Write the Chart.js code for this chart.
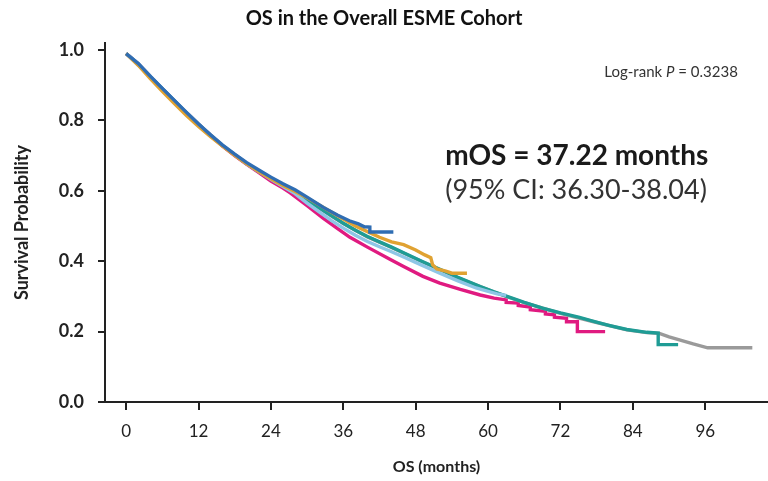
<!DOCTYPE html>
<html>
<head>
<meta charset="utf-8">
<script src="https://cdn.jsdelivr.net/npm/chart.js@4.4.1/dist/chart.umd.min.js"></script>
<style>
  html, body { margin: 0; padding: 0; background: #fff; }
  #wrap { width: 768px; height: 481px; }
</style>
</head>
<body>
<div id="wrap"><canvas id="osChart" width="768" height="481"></canvas></div>
<script>
// Kaplan-Meier points per cohort: [months, survival probability]
const blueCurve = [[0, 0.99], [2, 0.962], [4, 0.926], [6, 0.891], [8, 0.857], [10, 0.823], [12, 0.79],
  [14, 0.759], [16, 0.73], [18, 0.704], [20, 0.68], [22, 0.659], [24, 0.639], [26, 0.62], [28, 0.603],
  [30, 0.582], [32.7, 0.553], [35, 0.531], [37, 0.515], [38.5, 0.506], [39.5, 0.498], [40.4, 0.497],
  [40.4, 0.483], [44.3, 0.483]];

const orangeCurve = [[0, 0.99], [2, 0.957], [4, 0.919], [6, 0.883], [8, 0.848], [10, 0.814], [12, 0.783],
  [14, 0.754], [16, 0.727], [18, 0.701], [20, 0.677], [22, 0.655], [24, 0.634], [26, 0.615], [28, 0.598],
  [30, 0.58], [32, 0.56], [34, 0.54], [36, 0.52], [38, 0.5], [40, 0.484], [42, 0.468], [44, 0.455],
  [46, 0.447], [48, 0.432], [49.5, 0.418], [50.5, 0.41], [50.8, 0.39], [51.5, 0.378], [53, 0.372],
  [54, 0.366], [56.5, 0.366]];

const lightBlueCurve = [[0, 0.99], [2, 0.961], [4, 0.925], [6, 0.89], [8, 0.856], [10, 0.822], [12, 0.789],
  [14, 0.757], [16, 0.728], [18, 0.702], [20, 0.677], [22, 0.655], [24, 0.633], [26, 0.612], [28, 0.592],
  [30, 0.565], [32, 0.54], [34, 0.516], [36, 0.494], [38, 0.474], [40, 0.456], [42, 0.441], [44, 0.427],
  [46, 0.412], [49, 0.389], [52, 0.366], [55, 0.344], [58, 0.324], [60, 0.314], [61.5, 0.307], [63, 0.303]];

const tealCurve = [[0, 0.99], [2, 0.961], [4, 0.925], [6, 0.89], [8, 0.856], [10, 0.822], [12, 0.789],
  [14, 0.757], [16, 0.728], [18, 0.702], [20, 0.677], [22, 0.655], [24, 0.634], [26, 0.614], [28, 0.597],
  [30, 0.574], [32, 0.552], [34, 0.53], [36, 0.508], [38, 0.488], [40, 0.47], [42, 0.455], [44, 0.44],
  [46, 0.424], [49, 0.4], [52, 0.377], [55, 0.354], [58.7, 0.328], [61, 0.313], [63.5, 0.298],
  [66, 0.283], [69, 0.267], [72, 0.253], [75, 0.241], [77.5, 0.229], [80, 0.218], [83, 0.206],
  [86.3, 0.198], [88.2, 0.196], [88.2, 0.163], [91.5, 0.163]];

const grayCurve = [[0, 0.99], [4, 0.925], [8, 0.856], [12, 0.789], [16, 0.728], [20, 0.677], [24, 0.634],
  [28, 0.597], [32, 0.551], [36, 0.507], [40, 0.469], [44, 0.439], [49, 0.399], [55, 0.353], [61, 0.312],
  [66, 0.282], [72, 0.252], [77.5, 0.228], [83, 0.205], [86.3, 0.197], [88.4, 0.195], [90, 0.185],
  [92, 0.175], [94, 0.165], [96.4, 0.154], [103.8, 0.154]];

const magentaCurve = [[0, 0.99], [2, 0.961], [4, 0.925], [6, 0.89], [8, 0.856], [10, 0.822], [12, 0.789],
  [14, 0.757], [16, 0.727], [18, 0.7], [20, 0.675], [22, 0.652], [24, 0.628], [26, 0.608], [27.2, 0.594],
  [30, 0.558], [32.7, 0.522], [35, 0.493], [37.1, 0.468], [40, 0.44], [43.8, 0.405], [46, 0.385],
  [49.2, 0.357], [52, 0.338], [55.4, 0.32], [58.7, 0.304], [61, 0.295], [63, 0.29], [63, 0.283],
  [65, 0.281], [65, 0.274], [67, 0.27], [67, 0.262], [69.5, 0.258], [69.5, 0.25], [71, 0.248],
  [71, 0.241], [73, 0.238], [73, 0.228], [74.8, 0.228], [74.8, 0.2], [79.4, 0.2]];

const monthTicks = [0, 12, 24, 36, 48, 60, 72, 84, 96];
const survTicks = [0, 0.2, 0.4, 0.6, 0.8, 1.0];

const FONT = 'Lato, "Open Sans", sans-serif';
const INK = '#222';

function series(label, pts, color) {
  return {
    label: label,
    data: pts.map(p => ({ x: p[0], y: p[1] })),
    borderColor: color,
    borderWidth: 3.4,
    pointRadius: 0,
    fill: false,
    tension: 0
  };
}

// summary text drawn over the plot area
const notesPlugin = {
  id: 'notes',
  afterDatasetsDraw(chart) {
    const { ctx, scales: { x, y } } = chart;
    ctx.save();
    ctx.fillStyle = '#333';
    ctx.textBaseline = 'middle';

    // Log-rank line, right aligned, with italic P
    const px = x.getPixelForValue(101.4);
    const py = y.getPixelForValue(0.9375);
    const partA = 'Log-rank ';
    const partB = 'P';
    const partC = ' = 0.3238';
    ctx.font = '15px ' + FONT;
    const wA = ctx.measureText(partA).width;
    const wC = ctx.measureText(partC).width;
    ctx.font = 'italic 15px ' + FONT;
    const wB = ctx.measureText(partB).width;
    let cx = px - (wA + wB + wC);
    ctx.textAlign = 'left';
    ctx.font = '15px ' + FONT;
    ctx.fillText(partA, cx, py);
    cx += wA;
    ctx.font = 'italic 15px ' + FONT;
    ctx.fillText(partB, cx, py);
    cx += wB;
    ctx.font = '15px ' + FONT;
    ctx.fillText(partC, cx, py);

    // median OS
    const mx = x.getPixelForValue(52.9);
    ctx.fillStyle = '#1a1a1a';
    ctx.font = 'bold 28px ' + FONT;
    ctx.fillText('mOS = 37.22 months', mx, y.getPixelForValue(0.7));
    ctx.fillStyle = '#333';
    ctx.font = '27px ' + FONT;
    ctx.fillText('(95% CI: 36.30-38.04)', mx, y.getPixelForValue(0.602));
    ctx.restore();
  }
};

new Chart(document.getElementById('osChart'), {
  type: 'line',
  data: {
    datasets: [
      series('Cohort 1', blueCurve, '#2f6db3'),
      series('Cohort 2', orangeCurve, '#e0a232'),
      series('Cohort 3', lightBlueCurve, '#8ec6e6'),
      series('Cohort 4', tealCurve, '#1f9c95'),
      series('Cohort 5', grayCurve, '#9a9a9a'),
      series('Cohort 6', magentaCurve, '#e01a80')
    ]
  },
  options: {
    responsive: false,
    animation: false,
    layout: { padding: { left: 0, right: 0, top: 0, bottom: 0 } },
    plugins: {
      legend: { display: false },
      tooltip: { enabled: false },
      title: {
        display: true,
        text: 'OS in the Overall ESME Cohort',
        color: '#111',
        font: { family: FONT, size: 20, weight: 'bold', lineHeight: 1.2 },
        padding: { top: 7, bottom: 12 }
      }
    },
    scales: {
      x: {
        type: 'linear',
        min: -3.5,
        max: 106.4,
        border: { display: true, color: INK, width: 2 },
        grid: { drawOnChartArea: false, drawTicks: true, tickLength: 8, color: INK, lineWidth: 2 },
        ticks: {
          color: INK,
          padding: 11,
          font: { family: FONT, size: 17 },
          callback: v => String(v)
        },
        afterBuildTicks: s => { s.ticks = monthTicks.map(v => ({ value: v })); },
        afterFit: s => { s.height = 79; },
        title: {
          display: true,
          text: 'OS (months)',
          color: INK,
          font: { family: FONT, size: 16, weight: 'bold', lineHeight: 1.2 },
          padding: { top: 0, bottom: 5 }
        }
      },
      y: {
        type: 'linear',
        min: 0,
        max: 1.02,
        border: { display: true, color: INK, width: 2 },
        grid: { drawOnChartArea: false, drawTicks: true, tickLength: 7, color: INK, lineWidth: 2 },
        ticks: {
          color: INK,
          padding: 14,
          font: { family: FONT, size: 18, weight: 'bold' },
          callback: v => v.toFixed(1)
        },
        afterBuildTicks: s => { s.ticks = survTicks.map(v => ({ value: v })); },
        afterFit: s => { s.width = 105; },
        title: {
          display: true,
          text: 'Survival Probability',
          color: INK,
          font: { family: FONT, size: 18, weight: 'bold', lineHeight: 1.2 },
          padding: { top: 11, bottom: 0 }
        }
      }
    }
  },
  plugins: [notesPlugin]
});
</script>
</body>
</html>
